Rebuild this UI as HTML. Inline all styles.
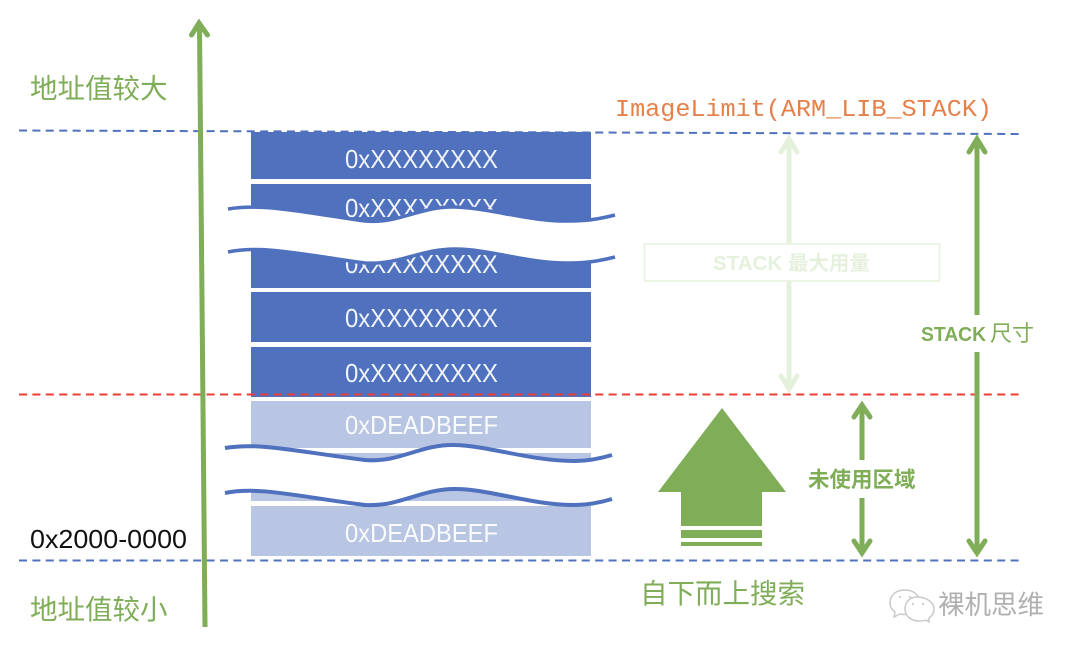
<!DOCTYPE html>
<html><head><meta charset="utf-8"><style>
html,body{margin:0;padding:0;background:#fff;width:1080px;height:653px;overflow:hidden}
svg{display:block}
text{font-family:"Liberation Sans","Noto Sans CJK SC",sans-serif}
</style></head><body>
<svg width="1080" height="653" viewBox="0 0 1080 653" xmlns="http://www.w3.org/2000/svg">
<rect width="1080" height="653" fill="#fff"/>
<!-- blocks -->
<g fill="#4f71be">
<rect x="251" y="132" width="340" height="47"/>
<rect x="251" y="184" width="340" height="50"/>
<rect x="251" y="240" width="340" height="48"/>
<rect x="251" y="292" width="340" height="50"/>
<rect x="251" y="347" width="340" height="50"/>
</g>
<g fill="#b8c6e3">
<rect x="251" y="401" width="340" height="47"/>
<rect x="251" y="453" width="340" height="48"/>
<rect x="251" y="506" width="340" height="50"/>
</g>
<g fill="#fff" fill-opacity=".92" font-size="26">
<text x="345" y="168" textLength="153" lengthAdjust="spacingAndGlyphs">0xXXXXXXXX</text>
<text x="345" y="217" textLength="153" lengthAdjust="spacingAndGlyphs">0xXXXXXXXX</text>
<text x="345" y="273" textLength="153" lengthAdjust="spacingAndGlyphs">0xXXXXXXXX</text>
<text x="345" y="327" textLength="153" lengthAdjust="spacingAndGlyphs">0xXXXXXXXX</text>
<text x="345" y="382" textLength="153" lengthAdjust="spacingAndGlyphs">0xXXXXXXXX</text>
<text x="345" y="434" textLength="153" lengthAdjust="spacingAndGlyphs">0xDEADBEEF</text>
<text x="345" y="542" textLength="153" lengthAdjust="spacingAndGlyphs">0xDEADBEEF</text>
</g>
<!-- upper break -->
<path d="M228 209C262 203 300 212 365 221C400 224 420 206 455 207C490 208 530 222 570 221C590 221 603 218 615 215L615 257C603 260 590 263 570 263C530 264 490 249 455 249C420 249 400 265 365 263C300 254 262 245 228 252Z" fill="#fff"/>
<path d="M228 209C262 203 300 212 365 221C400 224 420 206 455 207C490 208 530 222 570 221C590 221 603 218 615 215" fill="none" stroke="#4f71be" stroke-width="3.5"/>
<path d="M228 252C262 245 300 254 365 263C400 265 420 249 455 249C490 249 530 264 570 263C590 263 603 260 615 257" fill="none" stroke="#4f71be" stroke-width="3.5"/>
<!-- lower break -->
<path d="M225 448C260 442 300 452 365 460C400 463 420 444 455 445C490 446 530 461 575 461C590 461 602 458 612 455L612 499C602 502 590 505 575 505C530 505 490 489 455 489C420 489 400 507 365 505C300 497 260 486 225 493Z" fill="#fff"/>
<path d="M225 448C260 442 300 452 365 460C400 463 420 444 455 445C490 446 530 461 575 461C590 461 602 458 612 455" fill="none" stroke="#4f71be" stroke-width="4"/>
<path d="M225 493C260 486 300 497 365 505C400 507 420 489 455 489C490 489 530 505 575 505C590 505 602 502 612 499" fill="none" stroke="#4f71be" stroke-width="4"/>
<!-- pale arrow -->
<rect x="644.5" y="244" width="295" height="37" fill="#fff" stroke="#e6f1dd" stroke-width="1.500"/>
<g fill="none" stroke="#e6f1dd" stroke-width="5" stroke-linejoin="miter" stroke-linecap="round">
<path d="M789 244V142" stroke-linecap="butt"/>
<path d="M781 152L789 139L797 152"/>
<path d="M789 281V386" stroke-linecap="butt"/>
<path d="M781 376L789 389L797 376"/>
</g>
<text x="713" y="270" font-size="20" font-weight="700" fill="#e6f1dd" textLength="157" lengthAdjust="spacingAndGlyphs">STACK 最大用量</text>
<!-- dashed -->
<g fill="none" stroke-width="2" stroke-dasharray="8 5.4">
<line x1="19" y1="130.5" x2="1020" y2="134" stroke="#4f71be"/>
<line x1="19" y1="394.5" x2="1020" y2="394.5" stroke="#ee3d33"/>
<line x1="19" y1="560.5" x2="1020" y2="560.5" stroke="#4f71be"/>
</g>
<!-- main axis arrow -->
<g fill="none" stroke="#7fad58" stroke-width="5" stroke-linecap="round">
<path d="M205 627L199.500 26" stroke-linecap="butt"/>
<path d="M191.500 35L199 23L207.500 35"/>
</g>
<!-- size arrows -->
<g fill="none" stroke="#7fad58" stroke-width="5" stroke-linecap="round">
<path d="M977 315V142" stroke-linecap="butt"/>
<path d="M969 152L977 139L985 152"/>
<path d="M977 352V550" stroke-linecap="butt"/>
<path d="M969 541L977 553L985 541"/>
<path d="M862 460V408" stroke-linecap="butt"/>
<path d="M854 417L862 405L870 417"/>
<path d="M862 498V550" stroke-linecap="butt"/>
<path d="M854 541L862 553L870 541"/>
</g>
<!-- big arrow -->
<path d="M722 408L786 492H762V526H681V492H658Z" fill="#7fad58"/>
<rect x="681" y="530" width="81" height="8" fill="#7fad58"/>
<rect x="681" y="542" width="81" height="4" fill="#7fad58"/>
<!-- labels -->
<g fill="#7fad58">
<text x="30" y="98" font-size="27.500">地址值较大</text>
<text x="30" y="619" font-size="27.500">地址值较小</text>
<text x="640" y="603" font-size="27.500">自下而上搜索</text>
<text x="808" y="487" font-size="21.500" font-weight="700">未使用区域</text>
<text x="921" y="341" font-size="20" font-weight="700" textLength="65" lengthAdjust="spacingAndGlyphs">STACK</text>
<text x="990" y="341" font-size="22">尺寸</text>
</g>
<text x="615" y="116" font-size="24.500" fill="#e5804a" style="font-family:'Liberation Mono',monospace" textLength="377" lengthAdjust="spacingAndGlyphs">ImageLimit(ARM_LIB_STACK)</text>
<text x="30" y="548" font-size="26" fill="#111" textLength="157" lengthAdjust="spacingAndGlyphs">0x2000-0000</text>
<!-- watermark -->
<g fill="#fff" stroke="#c9c9c9" stroke-width="1.500">
<path d="M905 590C895 590 890 596 890 603C890 607 892 610 895 612L894 617L900 614C908 616 918 612 920 603C920 596 914 590 905 590Z"/>
<path d="M917 597C909 597 905 603 905 609C905 616 911 621 919 621C922 621 924 621 926 620L929 622L929 618C932 616 934 613 934 609C934 602 926 597 917 597Z"/>
</g>
<g fill="#c2c2c2">
<circle cx="900" cy="597" r="1"/><circle cx="910" cy="597" r="1"/><circle cx="913" cy="604" r="1"/><circle cx="923" cy="604" r="1"/>
</g>
<text x="938" y="614" font-size="26.500" fill="#b0b0b0">裸机思维</text>
</svg>
</body></html>
